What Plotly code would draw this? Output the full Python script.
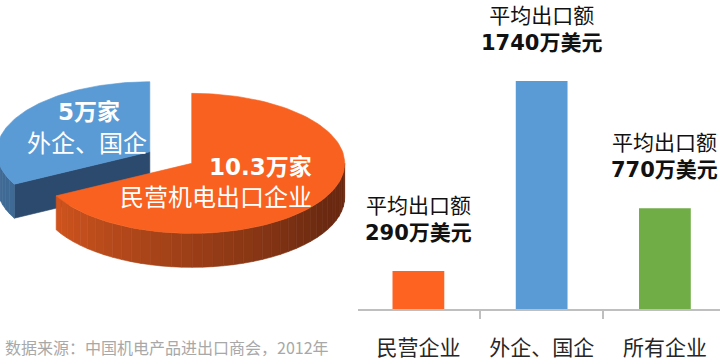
import numpy as np
import plotly.graph_objects as go

# ---------------- data ----------------
categories = ["民营企业", "外企、国企", "所有企业"]
avg_export = [290, 1740, 770]          # 万美元
bar_colors = ["#FF6321", "#5B9BD5", "#70AD47"]

pie_labels = ["民营机电出口企业", "外企、国企"]
pie_counts = [10.3, 5]                 # 万家
pie_count_text = ["10.3万家", "5万家"]

source_text = "数据来源：中国机电产品进出口商会，2012年"

# ---------------- 3D pie geometry (pixel axes) ----------------
RX, RY, DEPTH = 153, 70, 34
CX, CY = 176, 159
EXPLODE = [0.12, 0.20]
CJK = "Noto Sans CJK SC"
NUMF = "DejaVu Sans, Noto Sans CJK SC"


def hex2rgb(h):
    h = h.lstrip("#")
    return np.array([int(h[i:i + 2], 16) for i in (0, 2, 4)], dtype=float)


def mix(c1, c2, t):
    t = min(max(t, 0.0), 1.0)
    c = hex2rgb(c1) * (1 - t) + hex2rgb(c2) * t
    return "rgb(%d,%d,%d)" % tuple(np.round(c).astype(int))


def pt(c, ang, dz=0.0):
    r = np.radians(ang)
    return c[0] + RX * np.cos(r), c[1] - RY * np.sin(r) + dz


def poly(xs, ys, color):
    return go.Scatter(x=list(xs) + [xs[0]], y=list(ys) + [ys[0]], fill="toself",
                      fillcolor=color, mode="lines", line=dict(color=color, width=0.6),
                      hoverinfo="skip", showlegend=False, xaxis="x2", yaxis="y2")


total = sum(pie_counts)
slices = []
hi = 90.0
for i, v in enumerate(pie_counts):
    span = 360.0 * v / total
    lo = hi - span
    slices.append((lo, hi))
    hi = lo

styles = [
    dict(top="#F8611F", side=("#CF541E", "#6A2910"), face="#8A3313"),
    dict(top="#5B9BD5", side=("#3F6A96", "#3F6A96"), face="#2C4A6D"),
]

pie_traces = []
order = [1, 0]  # draw back slice first
for i in order:
    lo, hi = slices[i]
    mid = (lo + hi) / 2
    e = EXPLODE[i]
    c = (CX + RX * e * np.cos(np.radians(mid)), CY - RY * e * np.sin(np.radians(mid)))
    st = styles[i]
    # radial faces
    for edge, normal in ((lo, lo - 90), (hi, hi + 90)):
        if np.sin(np.radians(normal)) < -1e-6:
            x1, y1 = pt(c, edge)
            x2, y2 = pt(c, edge, DEPTH)
            pie_traces.append(poly([c[0], x1, x2, c[0]], [c[1], y1, y2, c[1] + DEPTH], st["face"]))
    # outer side, lower half only
    for k in range(-2, 2):
        a0, a1 = max(lo, 180 + 360 * k), min(hi, 360 + 360 * k)
        if a1 - a0 <= 0:
            continue
        n = max(1, int(np.ceil((a1 - a0) / 4)))
        edges = np.linspace(a0, a1, n + 1)
        for j in range(n):
            angs = np.linspace(edges[j], edges[j + 1], 4)
            top = [pt(c, a) for a in angs]
            bot = [pt(c, a, DEPTH) for a in angs[::-1]]
            xs = [p[0] for p in top + bot]
            ys = [p[1] for p in top + bot]
            am = (edges[j] + edges[j + 1]) / 2
            t = (am - (-152)) / 122.0
            pie_traces.append(poly(xs, ys, mix(st["side"][0], st["side"][1], t)))
    # top face
    angs = np.linspace(lo, hi, 120)
    xs = [c[0]] + [pt(c, a)[0] for a in angs]
    ys = [c[1]] + [pt(c, a)[1] for a in angs]
    pie_traces.append(poly(xs, ys, st["top"]))

fig = go.Figure(pie_traces)

# ---------------- bars ----------------
fig.add_trace(go.Bar(x=categories, y=avg_export, marker=dict(color=bar_colors, line=dict(width=0)),
                     width=0.42, hoverinfo="skip", showlegend=False, xaxis="x", yaxis="y"))

annotations = []
for cat, v in zip(categories, avg_export):
    annotations.append(dict(x=cat, y=v, xref="x", yref="y", yanchor="bottom", yshift=24,
                            text=f"平均出口额<br><b>{v}万美元</b>", showarrow=False,
                            font=dict(family=NUMF, size=21, color="#111111"), align="center"))

# pie labels
annotations += [
    dict(x=89, y=112, xref="x2", yref="y2", text=f"<b>{pie_count_text[1]}</b>", showarrow=False,
         font=dict(family=NUMF, size=23, color="white")),
    dict(x=87, y=141, xref="x2", yref="y2", text=pie_labels[1], showarrow=False,
         font=dict(family=CJK, size=24, color="white")),
    dict(x=314, y=167, xref="x2", yref="y2", xanchor="right", text=f"<b>{pie_count_text[0]}</b>",
         showarrow=False, font=dict(family=NUMF, size=23, color="white")),
    dict(x=314, y=195, xref="x2", yref="y2", xanchor="right", text=pie_labels[0], showarrow=False,
         font=dict(family=CJK, size=24, color="white")),
    dict(x=3 / 720, y=1 - 347 / 360, xref="paper", yref="paper", xanchor="left", yanchor="middle",
         text=source_text, showarrow=False, font=dict(family=CJK, size=16, color="#A8A8A8")),
]

fig.update_layout(
    width=720, height=360, margin=dict(l=0, r=0, t=0, b=0),
    paper_bgcolor="white", plot_bgcolor="rgba(0,0,0,0)", showlegend=False,
    annotations=annotations,
    xaxis=dict(domain=[358 / 720, 1], range=[-0.49, 2.447], type="category",
               showline=True, linecolor="#BFBFBF", linewidth=2, ticks="outside",
               tickson="boundaries", ticklen=8, tickwidth=2, tickcolor="#BFBFBF",
               showgrid=False, zeroline=False, ticklabelstandoff=19,
               tickfont=dict(family=CJK, size=21, color="#262626"), anchor="y"),
    yaxis=dict(domain=[51 / 360, 1], range=[0, 2359], visible=False, anchor="x"),
    xaxis2=dict(domain=[0, 1], range=[0, 720], visible=False, anchor="y2"),
    yaxis2=dict(domain=[0, 1], range=[360, 0], visible=False, anchor="x2"),
)

fig.write_html("out.html", config={"displayModeBar": False, "staticPlot": True},
               post_script="document.body.style.margin='0';document.body.style.overflow='hidden';")
